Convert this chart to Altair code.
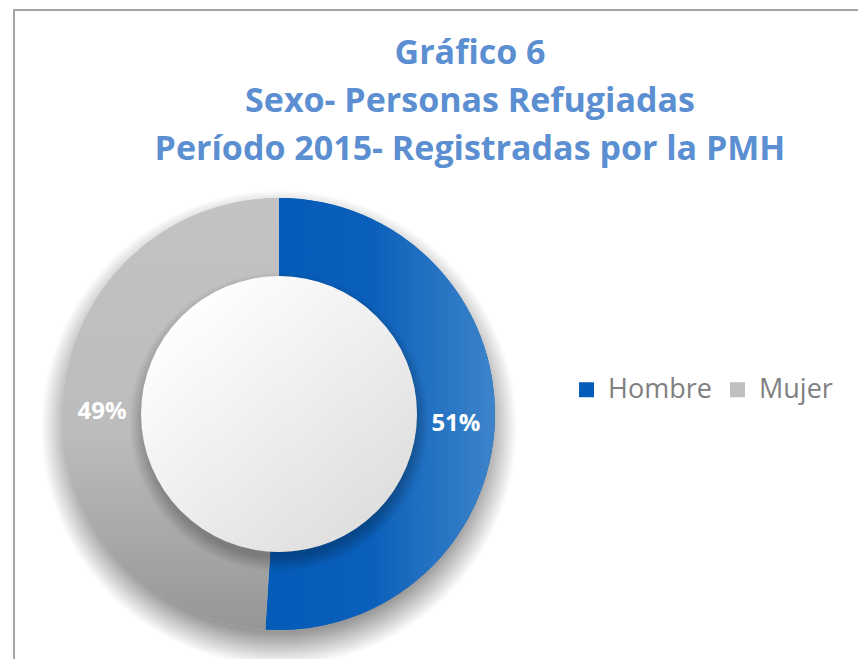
import altair as alt
import pandas as pd

# ---- data ----
categorias = ["Hombre", "Mujer"]
valores = [51, 49]
titulo = ["Gráfico 6", "Sexo- Personas Refugiadas", "Período 2015- Registradas por la PMH"]

df = pd.DataFrame({"sexo": categorias, "valor": valores})

R_OUT = 216
R_IN = 138

grad_blue = {"gradient": "linear", "x1": 0, "y1": 0, "x2": 1, "y2": 0,
             "stops": [{"offset": 0, "color": "#045bb7"},
                       {"offset": 0.45, "color": "#0a5fba"},
                       {"offset": 1, "color": "#3d84ca"}]}
grad_gray = {"gradient": "linear", "x1": 0, "y1": 0, "x2": 0, "y2": 1,
             "stops": [{"offset": 0, "color": "#c3c3c3"},
                       {"offset": 0.55, "color": "#bcbcbc"},
                       {"offset": 1, "color": "#969696"}]}
grad_inner = {"gradient": "linear", "x1": 0.15, "y1": 0.1, "x2": 0.85, "y2": 0.9,
              "stops": [{"offset": 0, "color": "#ffffff"},
                        {"offset": 1, "color": "#dedede"}]}
shadow_outer = {"gradient": "radial", "x1": 0.5, "y1": 0.5, "r1": 0, "x2": 0.5, "y2": 0.5, "r2": 0.5,
                "stops": [{"offset": 0, "color": "rgba(0,0,0,0.45)"},
                          {"offset": 0.86, "color": "rgba(0,0,0,0.40)"},
                          {"offset": 1, "color": "rgba(0,0,0,0)"}]}
shadow_inner = {"gradient": "radial", "x1": 0.5, "y1": 0.5, "r1": 0, "x2": 0.5, "y2": 0.5, "r2": 0.5,
                "stops": [{"offset": 0, "color": "rgba(0,0,0,0.32)"},
                          {"offset": 0.9, "color": "rgba(0,0,0,0.25)"},
                          {"offset": 1, "color": "rgba(0,0,0,0)"}]}

one = alt.Data(values=[{}])
full = dict(theta=alt.value(0), theta2=alt.value(6.2832))

outer_shadow = alt.Chart(one).mark_arc(radius=R_OUT + 22, yOffset=14, fill=shadow_outer).encode(**full)

base = alt.Chart(df).transform_calculate(
    etiqueta="datum.valor + '%'"
)

ring_flat = base.mark_arc(radius=R_OUT, radius2=R_IN).encode(
    theta=alt.Theta("valor:Q", stack=True),
    order=alt.Order("sexo:N"),
    color=alt.Color("sexo:N", sort=categorias,
                    scale=alt.Scale(domain=categorias, range=["#055cb9", "#bfbfbf"]),
                    legend=alt.Legend(title=None, orient="none", direction="horizontal",
                                      legendX=560, legendY=186, symbolType="square",
                                      symbolSize=225, symbolOpacity=1, symbolStrokeWidth=0,
                                      labelFontSize=27, labelFont="Open Sans",
                                      labelColor="#808080", labelOffset=8,
                                      columnPadding=12, padding=0)),
)

ring_grad = base.mark_arc(radius=R_OUT, radius2=R_IN).encode(
    theta=alt.Theta("valor:Q", stack=True),
    order=alt.Order("sexo:N"),
    fill=alt.condition("datum.sexo == 'Hombre'", alt.value(grad_blue), alt.value(grad_gray)),
)

inner_shadow = alt.Chart(one).mark_arc(radius=R_IN + 12, yOffset=8, fill=shadow_inner).encode(**full)
inner = alt.Chart(one).mark_arc(radius=R_IN, fill=grad_inner).encode(**full)

labels = base.mark_text(radius=(R_OUT + R_IN) / 2, font="Open Sans", fontWeight="bold",
                        fontSize=24, color="white", dy=4).encode(
    theta=alt.Theta("valor:Q", stack=True),
    order=alt.Order("sexo:N"),
    text="etiqueta:N",
)

frame_top = alt.Chart(one).mark_rule(color="#a6a6a6", strokeWidth=2).encode(
    x=alt.value(0), x2=alt.value(860), y=alt.value(-180))
frame_left = alt.Chart(one).mark_rule(color="#a6a6a6", strokeWidth=2).encode(
    x=alt.value(1), y=alt.value(-181), y2=alt.value(480))

chart = alt.layer(
    frame_top, frame_left, outer_shadow, ring_flat, ring_grad, inner_shadow, inner, labels
).properties(
    width=532, height=448,
    padding={"left": 5, "top": 182, "right": 313, "bottom": 21},
    autosize=alt.AutoSizeParams(type="none"),
    title=alt.TitleParams(text=titulo, fontSize=34, font="Open Sans", fontWeight="bold",
                          color="#5b8fd1", lineHeight=48, anchor="middle", dx=191,
                          offset=0, dy=159),
).configure(background="white", view=alt.ViewConfig(strokeWidth=0, stroke="transparent"))

chart.save("out.html", embed_options={"renderer": "svg", "actions": False})
